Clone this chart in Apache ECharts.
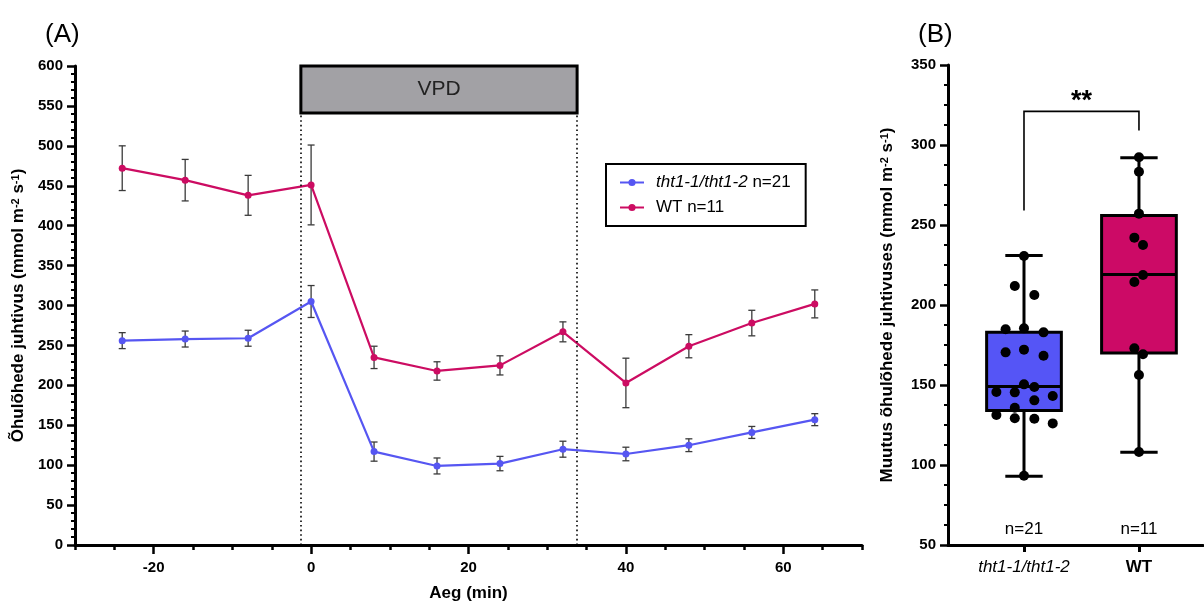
<!DOCTYPE html>
<html><head><meta charset="utf-8">
<script src="https://cdn.jsdelivr.net/npm/echarts@6/dist/echarts.min.js"></script>
<style>html,body{margin:0;padding:0;background:#fff}#c{width:1204px;height:601px}</style>
</head><body><div id="c"></div>
<script>
// ---------- Panel A data ----------
const timePoints = [-24, -16, -8, 0, 8, 16, 24, 32, 40, 48, 56, 64];
const thtMean = [256, 258, 259, 305, 117, 99, 102, 120, 114, 125, 141, 157];
const thtErr  = [10, 10, 10, 20, 12, 10, 9, 10, 8.5, 8, 7.5, 7.5];
const wtMean  = [472, 457, 438, 451, 235, 218, 225, 267, 203, 249, 278, 302];
const wtErr   = [28, 26, 25, 50, 14, 11.5, 12, 12.5, 31, 14.5, 16, 17.5];
const xLabelValues = [-20, 0, 20, 40, 60];
const vpdStart = -1.3, vpdEnd = 33.8, vpdLow = 541, vpdHigh = 600;
const seriesNames = ['tht1-1/tht1-2', 'WT'];
const seriesN = [21, 11];

// ---------- Panel B data ----------
const groups = ['tht1-1/tht1-2', 'WT'];
const groupPos = [1, 2];
const groupN = [21, 11];
// [min, Q1, median, Q3, max]
const boxStats = [[93, 134, 149, 183, 231], [108, 170, 219, 256, 292]];
const thtPoints = [184.8, 185.4, 182.9, 170.4, 172.1, 168.3, 150.4, 148.75, 145.6, 145.4, 143.1, 140.4, 135.8, 131.25, 129.2, 128.9, 126, 93.3, 230.6, 211.9, 206.25];
const thtJitter = [-0.16, 0, 0.17, -0.16, 0, 0.17, 0, 0.09, -0.24, -0.08, 0.25, 0.09, -0.08, -0.24, -0.08, 0.09, 0.25, 0, 0, -0.08, 0.09];
const wtPoints = [292.3, 283.3, 257.1, 242.1, 237.5, 218.75, 214.4, 172.9, 169.2, 156.25, 108.1];
const wtJitter = [0, 0, 0, -0.04, 0.035, 0.035, -0.04, -0.04, 0.035, 0, 0];
const sigTop = 321, sigLeftEnd = 259, sigRightEnd = 309, sigText = '**', sigTextY = 327;
const nLabelY = 59.5;

const FONT = "'Liberation Sans', Arial, sans-serif";
const BLUE = '#5656f2', PINK = '#cc0c62';
const BOX_COLORS = ['#5555f6', '#cc0a66'];

const lineData = (means) => timePoints.map((t, i) => [t, means[i]]);
const errData = (means, errs) => timePoints.map((t, i) => [t, means[i] - errs[i], means[i] + errs[i]]);

function errRender(params, api) {
  const x = api.value(0), lo = api.value(1), hi = api.value(2);
  const a = api.coord([x, hi]), b = api.coord([x, lo]);
  const w = 3.5;
  const style = { stroke: '#3a3a3a', lineWidth: 1.3 };
  return { type: 'group', children: [
    { type: 'line', shape: { x1: a[0], y1: a[1], x2: b[0], y2: b[1] }, style },
    { type: 'line', shape: { x1: a[0] - w, y1: a[1], x2: a[0] + w, y2: a[1] }, style },
    { type: 'line', shape: { x1: b[0] - w, y1: b[1], x2: b[0] + w, y2: b[1] }, style }
  ]};
}

function boxRender(params, api) {
  const x = api.value(0);
  const v = [1, 2, 3, 4, 5].map(i => api.value(i));
  const p = v.map(val => api.coord([x, val]));
  const hw = api.size([0.325, 0])[0];
  const cw = hw / 2;
  const cx = p[0][0];
  const st = { stroke: '#000', lineWidth: 3 };
  return { type: 'group', children: [
    { type: 'line', shape: { x1: cx, y1: p[4][1], x2: cx, y2: p[3][1] }, style: st },
    { type: 'line', shape: { x1: cx, y1: p[1][1], x2: cx, y2: p[0][1] }, style: st },
    { type: 'line', shape: { x1: cx - cw, y1: p[4][1], x2: cx + cw, y2: p[4][1] }, style: st },
    { type: 'line', shape: { x1: cx - cw, y1: p[0][1], x2: cx + cw, y2: p[0][1] }, style: st },
    { type: 'rect', shape: { x: cx - hw, y: p[3][1], width: 2 * hw, height: p[1][1] - p[3][1] },
      style: { fill: BOX_COLORS[params.dataIndex], stroke: '#000', lineWidth: 3 } },
    { type: 'line', shape: { x1: cx - hw, y1: p[2][1], x2: cx + hw, y2: p[2][1] }, style: st }
  ]};
}

function annotRender(params, api) {
  const L = api.coord([groupPos[0], sigTop]);
  const R = api.coord([groupPos[1], sigTop]);
  const Lb = api.coord([groupPos[0], sigLeftEnd]);
  const Rb = api.coord([groupPos[1], sigRightEnd]);
  const t = api.coord([(groupPos[0] + groupPos[1]) / 2, sigTextY]);
  const n1 = api.coord([groupPos[0], nLabelY]);
  const n2 = api.coord([groupPos[1], nLabelY]);
  return { type: 'group', children: [
    { type: 'polyline', shape: { points: [[Lb[0], Lb[1]], [L[0], L[1]], [R[0], R[1]], [Rb[0], Rb[1]]] },
      style: { stroke: '#000', lineWidth: 1.6, fill: null } },
    { type: 'text', x: t[0], y: t[1], style: { text: sigText, fill: '#000', font: 'bold 27px ' + FONT, align: 'center', verticalAlign: 'middle' } },
    { type: 'text', x: n1[0], y: n1[1], style: { text: 'n=' + groupN[0], fill: '#000', font: '17px ' + FONT, align: 'center', verticalAlign: 'middle' } },
    { type: 'text', x: n2[0], y: n2[1], style: { text: 'n=' + groupN[1], fill: '#000', font: '17px ' + FONT, align: 'center', verticalAlign: 'middle' } }
  ]};
}

const axisLineStyle = { show: true, onZero: false, lineStyle: { color: '#000', width: 3 } };
const tickLabelStyle = { color: '#000', fontSize: 15, fontWeight: 'bold', fontFamily: FONT };
const superRich = {
  n: { fontSize: 17, fontWeight: 'bold', fontFamily: FONT, color: '#000' },
  s: { fontSize: 11, fontWeight: 'bold', fontFamily: FONT, color: '#000', verticalAlign: 'top' }
};

const chart = echarts.init(document.getElementById('c'), null, { renderer: 'canvas' });
chart.setOption({
  animation: false,
  backgroundColor: '#fff',
  textStyle: { fontFamily: FONT },
  title: [
    { text: '(A)', left: 40, top: 17, textStyle: { fontSize: 26, fontWeight: 'normal', color: '#000', fontFamily: FONT } },
    { text: '(B)', left: 913, top: 17, textStyle: { fontSize: 26, fontWeight: 'normal', color: '#000', fontFamily: FONT } }
  ],
  legend: {
    data: seriesNames,
    orient: 'vertical',
    left: 606, top: 164,
    padding: [10, 15, 10, 13],
    itemGap: 8,
    itemWidth: 24, itemHeight: 9,
    borderColor: '#000', borderWidth: 2,
    backgroundColor: '#fff',
    formatter: (name) => {
      const i = seriesNames.indexOf(name);
      return i === 0 ? '{i|' + name + '} n=' + seriesN[i] : name + ' n=' + seriesN[i];
    },
    textStyle: { fontSize: 17, color: '#000', fontFamily: FONT, padding: [0, 0, 0, 7],
      rich: { i: { fontSize: 17, fontStyle: 'italic', color: '#000', fontFamily: FONT } } }
  },
  grid: [
    { left: 75, top: 66, width: 787, height: 479, containLabel: false, outerBoundsMode: 'none' },
    { left: 948, top: 65, width: 255, height: 480, containLabel: false, outerBoundsMode: 'none' }
  ],
  xAxis: [
    { type: 'value', gridIndex: 0, min: -30, max: 70, interval: 5, position: 'bottom',
      axisLine: axisLineStyle,
      axisTick: { show: true, length: 5, lineStyle: { color: '#000', width: 2.5 } },
      axisLabel: Object.assign({ customValues: xLabelValues, margin: 15 }, tickLabelStyle),
      splitLine: { show: false },
      name: 'Aeg (min)', nameLocation: 'middle', nameGap: 40,
      nameTextStyle: { fontSize: 17, fontWeight: 'bold', color: '#000', fontFamily: FONT } },
    { type: 'value', gridIndex: 0, min: -30, max: 70, position: 'bottom',
      axisLine: { show: false, onZero: false },
      axisTick: { show: true, customValues: xLabelValues, length: 9, lineStyle: { color: '#000', width: 2.5 } },
      axisLabel: { show: false }, splitLine: { show: false } },
    { type: 'value', gridIndex: 1, min: 0.339, max: 2.557, position: 'bottom',
      axisLine: axisLineStyle,
      axisTick: { show: true, customValues: groupPos, length: 7, lineStyle: { color: '#000', width: 3 } },
      axisLabel: { customValues: groupPos, margin: 14, color: '#000', fontSize: 17, fontFamily: FONT,
        formatter: (v) => { const i = groupPos.indexOf(v); return i === 0 ? '{i|' + groups[0] + '}' : '{b|' + groups[i] + '}'; },
        rich: { i: { fontSize: 17, fontStyle: 'italic', color: '#000', fontFamily: FONT },
                b: { fontSize: 17, fontWeight: 'bold', color: '#000', fontFamily: FONT } } },
      splitLine: { show: false } }
  ],
  yAxis: [
    { type: 'value', gridIndex: 0, min: 0, max: 600, interval: 50,
      axisLine: axisLineStyle,
      axisTick: { show: true, length: 8, lineStyle: { color: '#000', width: 2.5 } },
      minorTick: { show: true, splitNumber: 5, length: 4, lineStyle: { color: '#000', width: 2 } },
      axisLabel: Object.assign({ margin: 12 }, tickLabelStyle),
      splitLine: { show: false },
      name: '{n|Õhulõhede juhtivus (mmol m}{s|-2}{n| s}{s|-1}{n|)}',
      nameLocation: 'middle', nameGap: 47, nameRotate: 90,
      nameTextStyle: { rich: superRich } },
    { type: 'value', gridIndex: 1, min: 50, max: 350, interval: 50,
      axisLine: axisLineStyle,
      axisTick: { show: true, length: 8, lineStyle: { color: '#000', width: 2.5 } },
      minorTick: { show: true, splitNumber: 4, length: 4, lineStyle: { color: '#000', width: 2 } },
      axisLabel: Object.assign({ margin: 12 }, tickLabelStyle),
      splitLine: { show: false },
      name: '{n|Muutus õhulõhede juhtivuses (mmol m}{s|-2}{n| s}{s|-1}{n|)}',
      nameLocation: 'middle', nameGap: 52, nameRotate: 90,
      nameTextStyle: { rich: superRich } }
  ],
  series: [
    { type: 'custom', name: 'err-tht', xAxisIndex: 0, yAxisIndex: 0, z: 2,
      renderItem: errRender, encode: { x: 0, y: [1, 2] }, data: errData(thtMean, thtErr), silent: true },
    { type: 'custom', name: 'err-wt', xAxisIndex: 0, yAxisIndex: 0, z: 2,
      renderItem: errRender, encode: { x: 0, y: [1, 2] }, data: errData(wtMean, wtErr), silent: true },
    { type: 'line', name: seriesNames[0], xAxisIndex: 0, yAxisIndex: 0, z: 3,
      data: lineData(thtMean), symbol: 'circle', symbolSize: 7,
      itemStyle: { color: BLUE }, lineStyle: { color: BLUE, width: 2.2 } },
    { type: 'line', name: seriesNames[1], xAxisIndex: 0, yAxisIndex: 0, z: 3,
      data: lineData(wtMean), symbol: 'circle', symbolSize: 7,
      itemStyle: { color: PINK }, lineStyle: { color: PINK, width: 2.2 },
      markArea: { silent: true,
        itemStyle: { color: '#a2a1a5', borderColor: '#000', borderWidth: 3 },
        label: { show: true, position: 'inside', color: '#222', fontSize: 21, fontFamily: FONT },
        data: [[{ name: 'VPD', coord: [vpdStart, vpdLow] }, { coord: [vpdEnd, vpdHigh] }]] },
      markLine: { silent: true, symbol: ['none', 'none'], label: { show: false },
        lineStyle: { color: '#000', width: 1.6, type: [1.6, 3] },
        data: [
          [{ coord: [vpdStart, 0] }, { coord: [vpdStart, vpdLow] }],
          [{ coord: [vpdEnd, 0] }, { coord: [vpdEnd, vpdLow] }]
        ] } },
    { type: 'custom', name: 'box', xAxisIndex: 2, yAxisIndex: 1, z: 2,
      renderItem: boxRender, encode: { x: 0, y: [1, 2, 3, 4, 5] },
      data: boxStats.map((s, i) => [groupPos[i]].concat(s)), silent: true },
    { type: 'scatter', name: 'pts', xAxisIndex: 2, yAxisIndex: 1, z: 4,
      symbolSize: 10, itemStyle: { color: '#000', opacity: 1 }, silent: true,
      data: thtPoints.map((v, i) => [groupPos[0] + thtJitter[i], v])
        .concat(wtPoints.map((v, i) => [groupPos[1] + wtJitter[i], v])) },
    { type: 'custom', name: 'annot', xAxisIndex: 2, yAxisIndex: 1, z: 5,
      renderItem: annotRender, encode: { x: 0, y: 1 }, data: [[groupPos[0], sigTop]], silent: true }
  ]
});
</script>
</body></html>
